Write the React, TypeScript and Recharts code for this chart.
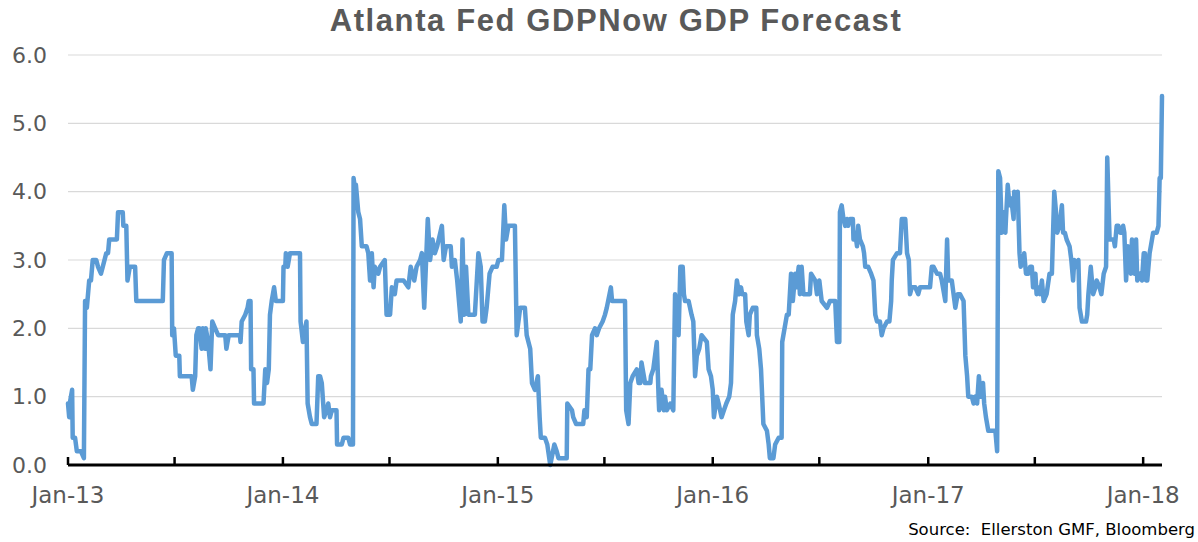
import React from "react";
import { LineChart, Line, XAxis, YAxis, CartesianGrid } from "recharts";

// Days since 1 Jan 2013 for each observation
const forecastDays: number[] = [
  0, 2, 3, 7, 8, 12, 15, 22, 27, 29, 32, 36, 39, 42, 48, 51, 56, 59, 65, 68, 70, 83, 85, 93, 94, 99, 101, 105, 114, 116,
  161, 163, 168, 176, 177, 180, 183, 189, 190, 210, 212, 216, 218, 221, 223, 227, 229, 233, 234, 238, 242, 245, 250, 255,
  267, 269, 273, 292, 293, 295, 301, 305, 307, 310, 311, 315, 316, 332, 335, 338, 341, 343, 346, 350, 353, 365, 366, 369,
  370, 373, 377, 394, 395, 399, 405, 407, 411, 414, 422, 425, 428, 431, 435, 439, 442, 445, 448, 456, 457, 465, 468, 476,
  479, 484, 485, 488, 489, 493, 496, 499, 507, 510, 513, 516, 519, 521, 527, 530, 538, 541, 547, 550, 555, 558, 570, 578,
  582, 588, 592, 598, 601, 605, 611, 615, 619, 623, 627, 635, 638, 642, 650, 652, 657, 661, 667, 670, 673, 676, 680, 691,
  697, 701, 704, 708, 711, 716, 721, 728, 731, 737, 741, 744, 748, 759, 762, 768, 776, 779, 785, 788, 793, 798, 801, 803,
  810, 814, 819, 826, 830, 833, 847, 848, 856, 858, 863, 875, 877, 881, 884, 887, 890, 895, 898, 902, 908, 912, 915, 922,
  924, 946, 948, 952, 955, 959, 966, 969, 972, 974, 980, 989, 990, 994, 1000, 1003, 1004, 1008, 1012, 1014, 1017, 1023,
  1028, 1031, 1037, 1040, 1044, 1046, 1048, 1054, 1059, 1062, 1065, 1068, 1072, 1076, 1085, 1088, 1092, 1095, 1097, 1102,
  1105, 1110, 1114, 1118, 1123, 1126, 1129, 1133, 1136, 1140, 1143, 1145, 1150, 1152, 1156, 1158, 1163, 1169, 1170, 1174,
  1177, 1181, 1187, 1190, 1192, 1198, 1201, 1207, 1212, 1213, 1221, 1224, 1228, 1231, 1235, 1237, 1241, 1243, 1246, 1249,
  1260, 1262, 1269, 1272, 1276, 1280, 1289, 1294, 1303, 1306, 1310, 1311, 1314, 1317, 1320, 1323, 1325, 1328, 1333, 1334,
  1337, 1340, 1342, 1345, 1350, 1352, 1354, 1359, 1364, 1368, 1371, 1374, 1379, 1382, 1385, 1391, 1395, 1398, 1399, 1401,
  1408, 1413, 1416, 1422, 1425, 1428, 1430, 1433, 1439, 1444, 1447, 1464, 1467, 1470, 1476, 1481, 1484, 1490, 1493, 1495,
  1501, 1507, 1511, 1515, 1521, 1524, 1527, 1529, 1535, 1538, 1541, 1544, 1547, 1550, 1554, 1556, 1559, 1563, 1575, 1578,
  1580, 1583, 1586, 1589, 1592, 1593, 1596, 1599, 1602, 1606, 1607, 1610, 1613, 1616, 1618, 1622, 1624, 1627, 1631, 1634,
  1637, 1639, 1643, 1645, 1648, 1651, 1654, 1657, 1662, 1667, 1671, 1675, 1678, 1680, 1684, 1688, 1690, 1693, 1696, 1701,
  1704, 1707, 1709, 1713, 1716, 1718, 1722, 1729, 1731, 1733, 1737, 1741, 1745, 1747, 1752, 1755, 1759, 1763, 1765, 1769,
  1772, 1776, 1778, 1781, 1784, 1787, 1790, 1792, 1794, 1797, 1800, 1803, 1805, 1807, 1811, 1814, 1816, 1821, 1824, 1827,
  1829, 1831, 1833, 1837, 1839, 1843, 1849, 1852, 1854, 1856, 1858,
];

// GDPNow forecast (%), one per day above
const forecastValues: number[] = [
  0.9, 0.7, 0.9, 1.1, 0.4, 0.4, 0.2, 0.2, 0.1, 2.4, 2.3, 2.7, 2.7, 3.0, 3.0, 2.9, 2.8, 2.9, 3.1, 3.1, 3.3, 3.3, 3.7, 3.7, 3.5, 3.5, 2.7, 2.9, 2.9, 2.4,
  2.4, 3.0, 3.1, 3.1, 1.9, 2.0, 1.6, 1.6, 1.3, 1.3, 1.1, 1.3, 1.9, 2.0, 2.0, 1.7, 2.0, 1.7, 2.0, 1.8, 1.4, 2.1, 2.0, 1.9,
  1.9, 1.7, 1.9, 1.9, 1.8, 2.1, 2.2, 2.3, 2.4, 2.4, 1.4, 1.4, 0.9, 0.9, 1.4, 1.2, 1.4, 2.2, 2.4, 2.6, 2.4, 2.4, 2.9, 2.9,
  3.1, 2.9, 3.1, 3.1, 2.1, 1.8, 2.1, 0.9, 0.7, 0.6, 0.6, 1.3, 1.3, 1.2, 0.7, 0.8, 0.9, 0.7, 0.8, 0.8, 0.3, 0.3, 0.4, 0.4,
  0.3, 0.3, 4.2, 4.0, 4.1, 3.7, 3.6, 3.2, 3.2, 3.1, 2.7, 3.1, 2.6, 2.9, 2.8, 2.9, 3.0, 2.2, 2.2, 2.6, 2.5, 2.7, 2.7, 2.6,
  2.9, 2.7, 2.9, 3.0, 3.1, 2.3, 3.6, 3.0, 3.3, 3.1, 3.2, 3.5, 3.0, 3.2, 3.2, 2.9, 3.0, 2.7, 2.1, 3.3, 2.2, 2.9, 2.2, 2.2,
  3.1, 2.9, 2.1, 2.1, 2.3, 2.8, 2.9, 2.9, 3.0, 3.0, 3.8, 3.3, 3.5, 3.5, 1.9, 2.3, 2.3, 1.9, 1.7, 1.2, 1.1, 1.3, 0.7, 0.4,
  0.4, 0.3, 0.0, 0.3, 0.2, 0.1, 0.1, 0.9, 0.8, 0.7, 0.6, 0.6, 0.8, 0.7, 1.4, 1.4, 1.9, 2.0, 1.9, 2.0, 2.1, 2.2, 2.3, 2.6,
  2.4, 2.4, 0.8, 0.6, 1.2, 1.3, 1.4, 1.2, 1.2, 1.5, 1.2, 1.2, 1.3, 1.4, 1.8, 1.0, 0.8, 1.1, 0.8, 1.0, 0.8, 0.9,
  0.8, 2.5, 1.9, 2.9, 2.9, 2.5, 2.4, 2.4, 2.2, 2.1, 1.3, 1.6, 1.7, 1.9, 1.8, 1.4, 1.3, 1.1, 0.7, 1.0,
  0.9, 0.7, 0.8, 0.9, 1.0, 1.2, 2.2, 2.4, 2.7, 2.5, 2.6, 2.5, 2.5, 2.1, 1.9, 2.2, 2.3, 2.3, 1.9, 1.7,
  1.4, 0.6, 0.5, 0.3, 0.1, 0.1, 0.3, 0.4, 0.4, 1.8, 2.2, 2.2, 2.8, 2.4, 2.8, 2.6, 2.9, 2.5, 2.9, 2.5,
  2.5, 2.8, 2.7, 2.5, 2.7, 2.4, 2.3, 2.4, 2.4, 1.8, 1.8, 3.7, 3.8, 3.6, 3.5, 3.6, 3.5, 3.6, 3.6, 3.3,
  3.4, 3.2, 3.5, 3.3, 3.2, 3.1, 2.9, 2.9, 2.8, 2.7, 2.2, 2.1, 2.1, 1.9, 2.0, 2.1, 2.1, 2.4, 2.7, 3.0,
  3.1, 3.1, 3.6, 3.6, 3.1, 3.0, 2.5, 2.6, 2.6, 2.5, 2.6, 2.6, 2.9, 2.9, 2.8, 2.8, 2.7, 2.4, 3.3, 2.7,
  2.7, 2.3, 2.5, 2.5, 2.4, 1.6, 1.3, 1.0, 1.0, 0.9, 1.0, 0.9, 1.3, 1.0, 1.2, 0.9, 0.7, 0.5, 0.5, 0.2,
  4.3, 4.2, 3.4, 3.7, 3.4, 3.6, 4.1, 3.8, 3.9, 3.6, 4.0, 3.8, 4.0, 3.1, 2.9, 3.0, 3.1, 2.8, 2.8, 2.9,
  2.9, 2.6, 2.8, 2.5, 2.6, 2.5, 2.7, 2.4, 2.5, 2.8, 2.8, 4.0, 3.7, 3.4, 3.5, 3.8, 3.4, 3.4, 3.3, 3.2,
  3.0, 2.7, 3.0, 2.9, 3.0, 2.3, 2.1, 2.1, 2.2, 2.5, 2.9, 2.5, 2.6, 2.7, 2.6, 2.5, 2.8, 2.9, 4.5, 3.3,
  3.3, 3.3, 3.2, 3.5, 3.5, 3.4, 3.4, 3.5, 3.4, 2.7, 3.2, 3.1, 2.8, 3.3, 2.8, 3.3, 2.7, 2.8, 2.7, 3.1,
  3.1, 2.7, 2.7, 3.1, 3.2, 3.4, 3.4, 3.5, 4.2, 4.2, 5.4,
];

// Half-year tick positions (days since 1 Jan 2013) and their labels
const xTickDays: number[] = [0, 181, 365, 546, 730, 911, 1095, 1276, 1461, 1642, 1826];
const xTickLabels: string[] = ["Jan-13", "", "Jan-14", "", "Jan-15", "", "Jan-16", "", "Jan-17", "", "Jan-18"];
const yTicks: number[] = [0, 1, 2, 3, 4, 5, 6];

const chartData = forecastDays.map((d, i) => ({ d, v: forecastValues[i] }));

const XTick = (props: any) => {
  const { x, y, payload } = props;
  const idx = xTickDays.indexOf(payload.value);
  const label = idx >= 0 ? xTickLabels[idx] : "";
  return (
    <g>
      <line x1={x} x2={x} y1={y} y2={y - 8} stroke="#000" strokeWidth={2.5} />
      {label ? (
        <text x={x} y={y + 38} textAnchor="middle" fill="#595959" fontSize={23} fontFamily="DejaVu Sans">
          {label}
        </text>
      ) : null}
    </g>
  );
};

export default function App() {
  return (
    <div style={{ position: "absolute", left: 0, top: 0, width: 1198, height: 542, background: "#fff", overflow: "hidden" }}>
      <div
        style={{
          position: "absolute",
          left: 0,
          top: 2,
          width: 1232,
          textAlign: "center",
          fontFamily: "'Liberation Sans', Arial, sans-serif",
          fontWeight: "bold",
          fontSize: 31,
          lineHeight: "38px",
          letterSpacing: 1.6,
          color: "#595959",
          whiteSpace: "pre",
        }}
      >
        Atlanta Fed GDPNow GDP Forecast
      </div>
      <LineChart width={1198} height={542} data={chartData} margin={{ top: 55, right: 36, bottom: 37, left: 8 }}>
        <CartesianGrid horizontal={true} vertical={false} stroke="#d9d9d9" strokeWidth={1.2} />
        <XAxis
          dataKey="d"
          type="number"
          domain={[0, 1858]}
          ticks={xTickDays}
          interval={0}
          height={40}
          axisLine={{ stroke: "#000", strokeWidth: 3 }}
          tickLine={false}
          tickSize={0}
          tickMargin={0}
          tick={<XTick />}
        />
        <YAxis
          type="number"
          domain={[0, 6]}
          ticks={yTicks}
          interval={0}
          width={60}
          axisLine={false}
          tickLine={false}
          tickSize={0}
          tickMargin={21}
          tickFormatter={(v: number) => v.toFixed(1)}
          tick={{ fill: "#595959", fontSize: 22, fontFamily: "DejaVu Sans" }}
        />
        <Line
          type="linear"
          dataKey="v"
          stroke="#5b9bd5"
          strokeWidth={4.5}
          strokeLinejoin="round"
          strokeLinecap="round"
          dot={false}
          activeDot={false}
          isAnimationActive={false}
        />
      </LineChart>
      <div
        style={{
          position: "absolute",
          right: 3,
          top: 520,
          fontFamily: "'DejaVu Sans', Verdana, sans-serif",
          fontSize: 16.5,
          lineHeight: "20px",
          color: "#000",
          whiteSpace: "pre",
        }}
      >
        Source:  Ellerston GMF, Bloomberg
      </div>
    </div>
  );
}
